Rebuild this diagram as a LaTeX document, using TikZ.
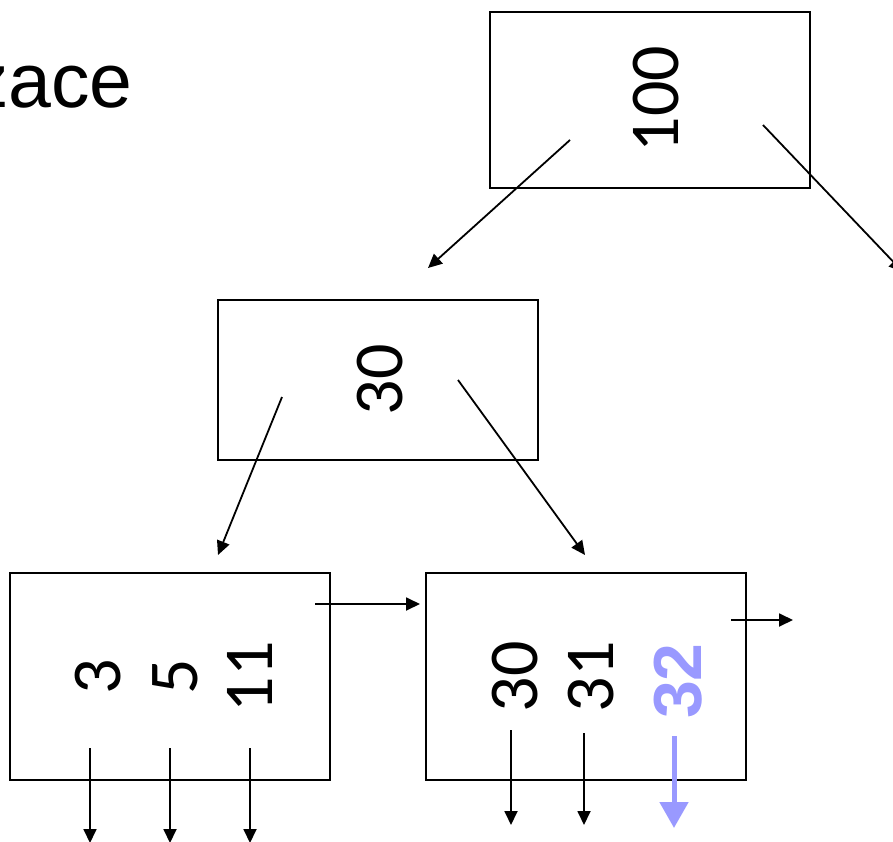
\documentclass[tikz,border=0pt]{standalone}
\usepackage{fontspec}
\setmainfont{Liberation Sans}
\newfontfamily\keyfont{Carlito}
\usetikzlibrary{arrows.meta}
\definecolor{hiblue}{RGB}{153,153,255}
\newcommand{\keysize}{\fontsize{70}{70}\selectfont}
\begin{document}
\begin{tikzpicture}[x=1pt,y=-1pt,
  box/.style={draw,line width=1.3pt,minimum width=320pt,inner sep=0pt},
  num/.style={rotate=90,anchor=base,inner sep=0pt},
  arr/.style={line width=1.8pt,-{Triangle[length=14pt,width=13pt]}},
  barr/.style={line width=5pt,hiblue,-{Triangle[length=26pt,width=28pt]}}]
\useasboundingbox (0,0) rectangle (893,842);
% title fragment
\node[anchor=base east,inner sep=0pt,font=\fontsize{77}{77}\selectfont] (title) at (133,108) {zace};
% boxes
\node[box,minimum height=176pt] (root) at (650,100) {};
\node[box,minimum height=160pt] (mid) at (378,380) {};
\node[box,minimum height=207pt] (leafL) at (170,676.5) {};
\node[box,minimum height=207pt] (leafR) at (586,676.5) {};
% keys
\node[num] (k100) at (678,99) {\keyfont\keysize 100};
\node[num] (k30) at (402,380) {\keyfont\keysize 30};
\node[num] (l3) at (120,677) {\keyfont\keysize 3};
\node[num] (l5) at (197,677) {\keyfont\keysize 5};
\node[num] (l11) at (272,677) {\keyfont\keysize 11};
\node[num] (r30) at (537,677) {\keyfont\keysize 30};
\node[num] (r31) at (613,677) {\keyfont\keysize 31};
\node[num,text=hiblue] (r32) at (701,681) {\normalfont\bfseries\fontsize{68}{68}\selectfont 32};
% connector end points
\coordinate (rootA) at (570,140);
\coordinate (rootB) at (763,125);
\coordinate (rootBend) at (903,272);
\coordinate (midIn) at (428,268);
\coordinate (midA) at (282,397);
\coordinate (midB) at (458,380);
\coordinate (leafLin) at (218,555);
\coordinate (leafRin) at (585,555);
\coordinate (leafLnext) at (315,604);
\coordinate (leafRin2) at (420,604);
\coordinate (leafRnext) at (731,620);
\coordinate (leafRnextEnd) at (793,620);
\coordinate (p3) at (90,748);
\coordinate (p3e) at (90,843);
\coordinate (p5) at (170,748);
\coordinate (p5e) at (170,843);
\coordinate (p11) at (250,748);
\coordinate (p11e) at (250,843);
\coordinate (p30) at (511,730);
\coordinate (p30e) at (511,825);
\coordinate (p31) at (584,733);
\coordinate (p31e) at (584,825);
\coordinate (p32) at (674,736);
\coordinate (p32e) at (674,828);
% connectors
\draw[arr] (rootA) -- (midIn);
\draw[arr] (rootB) -- (rootBend);
\draw[arr] (midA) -- (leafLin);
\draw[arr] (midB) -- (leafRin);
\draw[arr] (leafLnext) -- (leafRin2);
\draw[arr] (leafRnext) -- (leafRnextEnd);
\draw[arr] (p3) -- (p3e);
\draw[arr] (p5) -- (p5e);
\draw[arr] (p11) -- (p11e);
\draw[arr] (p30) -- (p30e);
\draw[arr] (p31) -- (p31e);
\draw[barr] (p32) -- (p32e);
\end{tikzpicture}
\end{document}
